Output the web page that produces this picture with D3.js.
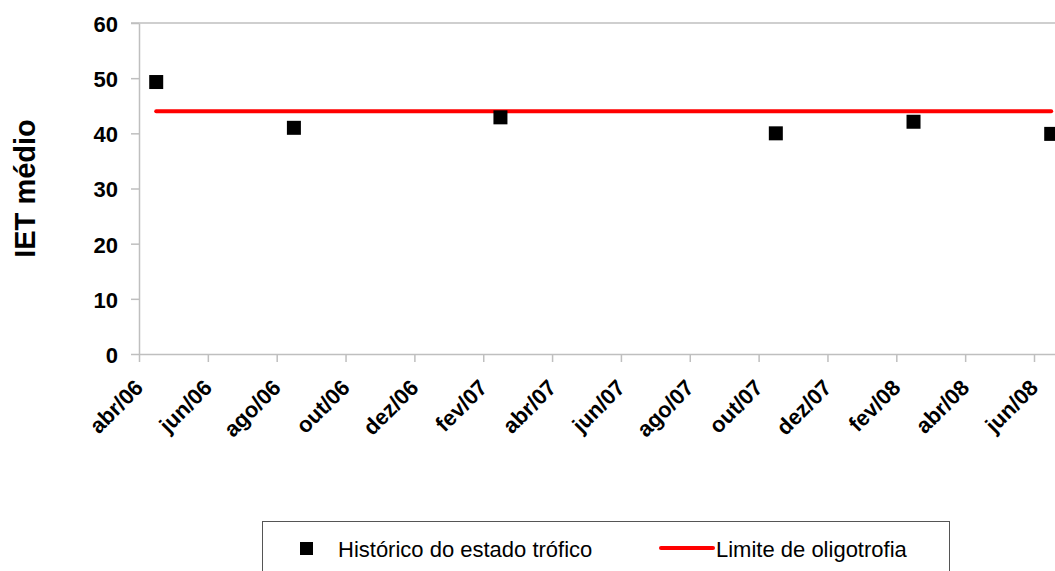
<!DOCTYPE html>
<html>
<head>
<meta charset="utf-8">
<script src="https://cdn.jsdelivr.net/npm/d3@7"></script>
<style>
  body { margin: 0; background: #fff; }
  text { font-family: "Liberation Sans", Arial, sans-serif; }
</style>
</head>
<body>
<svg id="chart" width="1055" height="571"></svg>
<script>
// months of the date axis, abr/06 .. jul/08
var axisMonths = ['abr/06', 'mai/06', 'jun/06', 'jul/06', 'ago/06', 'set/06', 'out/06', 'nov/06', 'dez/06',
  'jan/07', 'fev/07', 'mar/07', 'abr/07', 'mai/07', 'jun/07', 'jul/07', 'ago/07', 'set/07', 'out/07',
  'nov/07', 'dez/07', 'jan/08', 'fev/08', 'mar/08', 'abr/08', 'mai/08', 'jun/08', 'jul/08'];
var tickMonths = ['abr/06', 'jun/06', 'ago/06', 'out/06', 'dez/06', 'fev/07', 'abr/07',
  'jun/07', 'ago/07', 'out/07', 'dez/07', 'fev/08', 'abr/08', 'jun/08'];
var yTicks = [0, 10, 20, 30, 40, 50, 60];

var sampleMonths = ['abr/06', 'ago/06', 'fev/07', 'out/07', 'fev/08', 'jun/08'];
var ietValues = [49.3, 41.0, 42.9, 40.0, 42.1, 39.9];
var limitMonths = ['abr/06', 'jun/08'];
var limitValues = [44, 44];

var seriesNames = ['Histórico do estado trófico', 'Limite de oligotrofia'];

var svg = d3.select('#chart');
var plotLeft = 139, plotTop = 23, plotBottom = 354;
var monthWidth = (1034 - plotLeft) / 26;

var x = d3.scaleLinear().domain([0, 27]).range([plotLeft, plotLeft + 27 * monthWidth]);
var y = d3.scaleLinear().domain([0, 60]).range([plotBottom, plotTop]);
var axisColor = '#bfbfbf';

function monthPos(m) {
  // points sit in the middle of their month
  return x(axisMonths.indexOf(m) + 0.5);
}

// top border of plot area
svg.append('line')
  .attr('x1', plotLeft - 8).attr('x2', 1055)
  .attr('y1', y(60)).attr('y2', y(60))
  .attr('stroke', axisColor).attr('stroke-width', 1.5);

var yAxis = svg.append('g')
  .attr('transform', 'translate(' + plotLeft + ',0)')
  .call(d3.axisLeft(y).tickValues(yTicks).tickSize(8).tickSizeOuter(0).tickPadding(13));
var xAxis = svg.append('g')
  .attr('transform', 'translate(0,' + plotBottom + ')')
  .call(d3.axisBottom(x)
    .tickValues(tickMonths.map(function (m) { return axisMonths.indexOf(m); }))
    .tickFormat(function (i) { return axisMonths[i]; })
    .tickSize(8).tickSizeOuter(0));

[yAxis, xAxis].forEach(function (g) {
  g.select('.domain').attr('stroke', axisColor).attr('stroke-width', 1.5);
  g.selectAll('.tick line').attr('stroke', axisColor).attr('stroke-width', 1.5);
  g.selectAll('text')
    .attr('fill', '#000')
    .style('font-size', '22px')
    .style('font-weight', 'bold');
});

yAxis.selectAll('.tick text').attr('dy', '0.38em');
xAxis.selectAll('.tick text')
  .attr('y', 0).attr('dy', 0)
  .attr('text-anchor', 'end')
  .attr('transform', 'translate(5,35) rotate(-45)');

// y axis title
svg.append('text')
  .attr('transform', 'translate(35,' + ((plotTop + plotBottom) / 2) + ') rotate(-90)')
  .attr('text-anchor', 'middle')
  .style('font-size', '29px')
  .style('font-weight', 'bold')
  .text('IET médio');

// limit line
var line = d3.line()
  .x(function (d) { return monthPos(d[0]); })
  .y(function (d) { return y(d[1]); });
svg.append('path')
  .datum(d3.zip(limitMonths, limitValues))
  .attr('d', line)
  .attr('fill', 'none')
  .attr('stroke', '#ff0000')
  .attr('stroke-width', 4)
  .attr('stroke-linecap', 'round');

// markers
var marker = 14;
svg.selectAll('.point')
  .data(d3.zip(sampleMonths, ietValues))
  .enter()
  .append('rect')
  .classed('point', true)
  .attr('x', function (d) { return monthPos(d[0]) - marker / 2; })
  .attr('y', function (d) { return y(d[1]) - marker / 2; })
  .attr('width', marker)
  .attr('height', marker)
  .attr('fill', '#000');

// legend
var legend = svg.append('g');
legend.append('rect')
  .attr('x', 262.5).attr('y', 521.5)
  .attr('width', 687).attr('height', 70)
  .attr('fill', '#fff')
  .attr('stroke', '#555').attr('stroke-width', 1);
legend.append('rect')
  .attr('x', 300).attr('y', 542).attr('width', 13).attr('height', 13)
  .attr('fill', '#000');
legend.append('text')
  .attr('x', 338).attr('y', 557)
  .style('font-size', '22px')
  .text(seriesNames[0]);
legend.append('line')
  .attr('x1', 661).attr('x2', 713).attr('y1', 548).attr('y2', 548)
  .attr('stroke', '#ff0000').attr('stroke-width', 4).attr('stroke-linecap', 'round');
legend.append('text')
  .attr('x', 716).attr('y', 557)
  .style('font-size', '22px')
  .text(seriesNames[1]);
</script>
</body>
</html>
